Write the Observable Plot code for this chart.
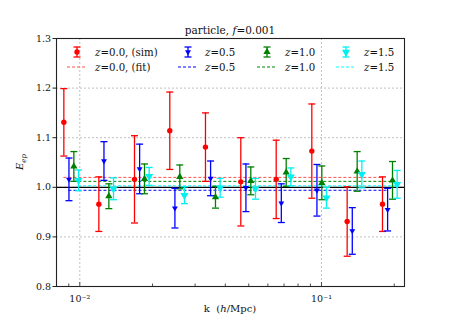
<!DOCTYPE html>
<html><head><meta charset="utf-8">
<script src="https://cdn.jsdelivr.net/npm/d3@7"></script>
<script src="https://cdn.jsdelivr.net/npm/@observablehq/plot@0.6"></script>
<style>body{margin:0;background:#fff}</style>
</head><body><div id="chart"></div>
<script>
// ---- data ----
const k = [0.00859, 0.01199, 0.01684, 0.02357, 0.03311, 0.04636, 0.06495, 0.09119, 0.1277, 0.1788];
const zLabels = ["0.0", "0.5", "1.0", "1.5"];
const eZ00 = [1.131, 0.966, 1.016, 1.114, 1.081, 1.011, 1.016, 1.073, 0.931, 0.966];
const errZ00 = [0.068, 0.055, 0.088, 0.078, 0.069, 0.089, 0.079, 0.095, 0.070, 0.055];
const eZ05 = [1.016, 1.053, 1.037, 0.958, 1.018, 0.999, 0.968, 0.994, 0.912, 0.955];
const errZ05 = [0.043, 0.039, 0.050, 0.040, 0.035, 0.048, 0.039, 0.052, 0.047, 0.043];
const eZ10 = [1.042, 0.982, 1.017, 1.021, 0.980, 1.013, 1.030, 1.009, 1.032, 1.014];
const errZ10 = [0.030, 0.025, 0.030, 0.024, 0.022, 0.028, 0.028, 0.034, 0.040, 0.038];
const eZ15 = [1.014, 0.997, 1.022, 0.984, 0.999, 0.997, 1.021, 0.979, 1.026, 1.006];
const errZ15 = [0.021, 0.022, 0.018, 0.017, 0.019, 0.021, 0.018, 0.021, 0.027, 0.028];
const fitValues = [1.020, 0.994, 1.012, 1.003];
const yTicks = [0.8, 0.9, 1.0, 1.1, 1.2, 1.3];
const xMajor = [0.01, 0.1];
const xMinor = [0.009, 0.02, 0.03, 0.04, 0.05, 0.06, 0.07, 0.08, 0.09, 0.2];
const titleText = "particle, ";
// ---- styles ----
const colors = ["#ff0000", "#0000ff", "#008000", "#00f0f0"];
const fitColors = ["#ff5050", "#0000ff", "#008000", "#00ffff"];
const FONT = "DejaVu Serif";
const dodge = 0.05;

const triDown = {draw(ctx, size) {
  const c = {moveTo: (x, y) => ctx.moveTo(x, -y), lineTo: (x, y) => ctx.lineTo(x, -y), closePath: () => ctx.closePath()};
  d3.symbolTriangle.draw(c, size);
}};
const capSym = {draw(ctx) { ctx.moveTo(-3.5, 0); ctx.lineTo(3.5, 0); }};
const symbols = ["circle", triDown, "triangle", triDown];
const radii = [2.7, 2.2, 2.7, 3.0];

const vals = [eZ00, eZ05, eZ10, eZ15];
const errs = [errZ00, errZ05, errZ10, errZ15];
const rows = [];
vals.forEach((v, i) => v.forEach((e, j) => rows.push({s: i, k: k[j] * (1 + dodge * i), e, lo: e - errs[i][j], hi: e + errs[i][j]})));
const fits = fitValues.map((v, i) => ({s: i, v, k1: k[0] * (1 + dodge * i), k2: k[k.length - 1] * (1 + dodge * i)}));

const W = 449, H = 321, mL = 56, mR = 45, mT = 38, mB = 35;
const innerH = H - mT - mB;
const grid = {stroke: "#b0b0b0", strokeOpacity: 1, strokeDasharray: "2,2", strokeWidth: 0.8};

const marks = [
  Plot.gridY(yTicks, grid),
  Plot.gridX(xMajor, grid),
  Plot.ruleY([1], {stroke: "black", strokeWidth: 1.2}),
  Plot.ruleY(fits, {y: "v", x1: "k1", x2: "k2", stroke: d => fitColors[d.s], strokeDasharray: "3,2", strokeWidth: 1}),
  Plot.ruleX(rows, {x: "k", y1: "lo", y2: "hi", stroke: d => colors[d.s], strokeWidth: 1.3}),
  Plot.dot(rows, {x: "k", y: "lo", symbol: capSym, r: 3, stroke: d => colors[d.s], strokeWidth: 1.3}),
  Plot.dot(rows, {x: "k", y: "hi", symbol: capSym, r: 3, stroke: d => colors[d.s], strokeWidth: 1.3}),
];
for (let i = 0; i < 4; i++) {
  marks.push(Plot.dot(rows.filter(d => d.s === i), {x: "k", y: "e", symbol: symbols[i], r: radii[i], fill: colors[i], stroke: "none"}));
}
marks.push(
  Plot.tickX(xMinor, {x: d => d, insetTop: innerH - 2.5, stroke: "#222", strokeWidth: 0.8}),
  Plot.tickX(xMajor, {x: d => d, insetTop: innerH - 4, stroke: "#222", strokeWidth: 0.8}),
  Plot.axisX(xMajor, {tickSize: 0, tickPadding: 9, fontSize: 9.5, tickFormat: d => d === 0.01 ? "10\u207B\u00B2" : "10\u207B\u00B9", label: null}),
  Plot.axisY(yTicks, {tickSize: 3.5, tickPadding: 2, fontSize: 9.5, tickFormat: d3.format(".1f"), label: null, stroke: "#222"}),
  Plot.frame({stroke: "#222", strokeWidth: 1.1})
);

const chart = Plot.plot({
  width: W, height: H, marginLeft: mL, marginRight: mR, marginTop: mT, marginBottom: mB,
  style: {fontFamily: FONT, fontSize: "10px", color: "#111", background: "#fff"},
  x: {type: "log", domain: [0.00801, 0.2205], axis: null},
  y: {domain: [0.8, 1.3], axis: null},
  color: {type: "identity"},
  marks
});
document.getElementById("chart").appendChild(chart);

const svg = d3.select(chart);
const g = svg.append("g").attr("font-family", FONT).attr("fill", "#111");
// title
const t = g.append("text").attr("x", 230).attr("y", 34).attr("text-anchor", "middle").attr("font-size", 10.5);
t.append("tspan").text(titleText);
t.append("tspan").attr("font-style", "italic").text("f");
t.append("tspan").text("=0.001");
// x label
const xl = g.append("text").attr("x", 230).attr("y", 312).attr("text-anchor", "middle").attr("font-size", 10);
xl.append("tspan").text("k\u00A0\u00A0(");
xl.append("tspan").attr("font-style", "italic").text("h");
xl.append("tspan").text("/Mpc)");
// y label
const yl = g.append("text").attr("transform", "translate(23,162) rotate(-90)").attr("text-anchor", "middle").attr("font-size", 10);
yl.append("tspan").attr("font-style", "italic").text("E");
yl.append("tspan").attr("font-style", "italic").attr("font-size", 7).attr("dy", 2.5).text("ep");

// legend
const cols = [{mx: 77, tx: 95}, {mx: 188, tx: 205}, {mx: 267, tx: 285}, {mx: 346, tx: 364}];
const symGen = (s, r) => d3.symbol(typeof s === "string" ? (s === "circle" ? d3.symbolCircle : d3.symbolTriangle) : s, Math.PI * r * r)();
cols.forEach((c, i) => {
  const y1 = 52, y2 = 67;
  const lg = g.append("g");
  lg.append("line").attr("x1", c.mx).attr("x2", c.mx).attr("y1", y1 - 5).attr("y2", y1 + 5).attr("stroke", colors[i]).attr("stroke-width", 1.3);
  [y1 - 5, y1 + 5].forEach(yy => lg.append("line").attr("x1", c.mx - 3.5).attr("x2", c.mx + 3.5).attr("y1", yy).attr("y2", yy).attr("stroke", colors[i]).attr("stroke-width", 1.3));
  lg.append("path").attr("d", symGen(symbols[i], radii[i])).attr("transform", `translate(${c.mx},${y1})`).attr("fill", colors[i]);
  lg.append("line").attr("x1", c.mx - 10).attr("x2", c.mx + 10).attr("y1", y2).attr("y2", y2).attr("stroke", fitColors[i]).attr("stroke-dasharray", "3,2").attr("stroke-width", 1);
  [[y1, i === 0 ? ", (sim)" : ""], [y2, i === 0 ? ", (fit)" : ""]].forEach(([yy, suf]) => {
    const tx = lg.append("text").attr("x", c.tx).attr("y", yy + 3.5).attr("font-size", 10.2).attr("text-anchor", "start");
    tx.append("tspan").attr("font-style", "italic").text("z");
    tx.append("tspan").text("=" + zLabels[i] + suf);
  });
});
</script></body></html>
